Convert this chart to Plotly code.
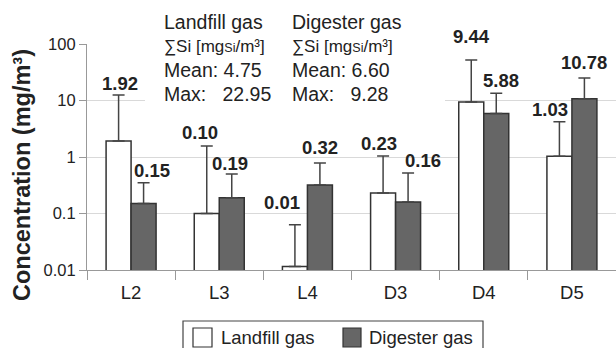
import plotly.graph_objects as go
import math

categories = ["L2", "L3", "L4", "D3", "D4", "D5"]
series_names = ["Landfill gas", "Digester gas"]
landfill = [1.92, 0.10, 0.0115, 0.23, 9.44, 1.03]
digester = [0.15, 0.19, 0.32, 0.16, 5.88, 10.78]
landfill_err_top = [12.5, 1.57, 0.063, 1.04, 52.0, 4.2]
digester_err_top = [0.35, 0.50, 0.78, 0.52, 13.5, 25.0]
landfill_labels = ["1.92", "0.10", "0.01", "0.23", "9.44", "1.03"]
digester_labels = ["0.15", "0.19", "0.32", "0.16", "5.88", "10.78"]
y_tickvals = [0.01, 0.1, 1, 10, 100]
y_ticktext = ["0.01", "0.1", "1", "10", "100"]
stats_landfill = ["Landfill gas", "∑Si [mg<span style='font-size:12.5px'>Si</span>/m³]", "Mean: 4.75", "Max:\u00a0\u00a0 22.95"]
stats_digester = ["Digester gas", "∑Si [mg<span style='font-size:12.5px'>Si</span>/m³]", "Mean: 6.60", "Max:\u00a0\u00a0 9.28"]

# style: label pixel offsets (relative to error bar top / bar centre)
lf_dx = [1.5, -6.5, -12.5, -4.5, 0, -9.5]
lf_dy = [12, 13, 22, 13, 24, 12]
dg_dx = [8.5, -1.5, 0, 14.5, 4.5, 0]
dg_dy = [12, 11, 16, 13, 13, 16]

W, H = 616, 348
ML, MR, MT, MB = 87, 0, 44, 78
PW, PH = W - ML - MR, H - MT - MB
def px(x):
    return (x - ML) / PW
def py(y):
    return (H - MB - y) / PH

FONT = "Liberation Sans, Arial, sans-serif"
TXT = "#222222"
EDGE = "#333333"
DARK = "#666666"

fig = go.Figure()
for name, vals, tops, fill in [(series_names[0], landfill, landfill_err_top, "white"),
                               (series_names[1], digester, digester_err_top, DARK)]:
    fig.add_trace(go.Bar(
        x=categories, y=vals, name=name,
        marker=dict(color=fill, line=dict(color=EDGE, width=1.5)),
        error_y=dict(type="data", symmetric=False,
                     array=[t - v for t, v in zip(tops, vals)],
                     arrayminus=[0] * len(vals),
                     color="#444444", thickness=1.5, width=6),
        showlegend=False, hoverinfo="skip",
    ))

annotations = []
half = PW / len(categories) * 0.567 / 4
for i, c in enumerate(categories):
    annotations.append(dict(x=c, y=math.log10(landfill_err_top[i]), xref="x", yref="y",
                            text=landfill_labels[i], showarrow=False,
                            xshift=-half + lf_dx[i], yshift=lf_dy[i], yanchor="middle",
                            font=dict(family=FONT, size=18.5, color=TXT, weight="bold")))
    annotations.append(dict(x=c, y=math.log10(digester_err_top[i]), xref="x", yref="y",
                            text=digester_labels[i], showarrow=False,
                            xshift=half + dg_dx[i], yshift=dg_dy[i], yanchor="middle",
                            font=dict(family=FONT, size=18.5, color=TXT, weight="bold")))

line_y = [21.5, 46, 69.5, 94]
for col_x, lines in [(162, stats_landfill), (290, stats_digester)]:
    for j, t in enumerate(lines):
        annotations.append(dict(x=px(col_x), y=py(line_y[j]), xref="paper", yref="paper",
                                text=t, showarrow=False, xanchor="left", yanchor="middle",
                                font=dict(family=FONT, size=17 if j == 1 else 19.5, color=TXT)))

annotations.append(dict(x=px(22), y=py(175), xref="paper", yref="paper",
                        xanchor="center", yanchor="middle",
                        text="Concentration (mg/m³)", textangle=-90, showarrow=False,
                        font=dict(family=FONT, size=23.5, color=TXT, weight="bold")))

# manual legend
shapes = [
    dict(type="rect", xref="paper", yref="paper", x0=px(145), x1=px(445), y0=py(108), y1=py(6),
         fillcolor="white", line=dict(width=0), layer="above"),
    dict(type="rect", xref="paper", yref="paper", x0=px(183), x1=px(483), y0=py(352), y1=py(321),
         fillcolor="white", line=dict(color="#444444", width=1.2)),
    dict(type="rect", xref="paper", yref="paper", x0=px(193), x1=px(212), y0=py(347), y1=py(328),
         fillcolor="white", line=dict(color=EDGE, width=1.2)),
    dict(type="rect", xref="paper", yref="paper", x0=px(343), x1=px(361), y0=py(347), y1=py(328),
         fillcolor=DARK, line=dict(color=EDGE, width=1.2)),
]
for lx, name in [(219, series_names[0]), (367, series_names[1])]:
    annotations.append(dict(x=px(lx), y=py(337.5), xref="paper", yref="paper", text=name,
                            showarrow=False, xanchor="left", yanchor="middle",
                            font=dict(family=FONT, size=18.5, color=TXT)))

fig.update_layout(
    width=W, height=H,
    margin=dict(l=ML, r=MR, t=MT, b=MB),
    paper_bgcolor="white", plot_bgcolor="white",
    barmode="group", bargap=0.433, bargroupgap=0,
    font=dict(family=FONT, color=TXT),
    annotations=annotations, shapes=shapes,
    xaxis=dict(type="category", tickson="boundaries", ticks="outside", ticklen=9,
               tickcolor="#999999", showline=True, linecolor="#999999", linewidth=1.2,
               showgrid=False, ticklabelstandoff=6,
               tickfont=dict(family=FONT, size=18.5, color=TXT)),
    yaxis=dict(type="log", range=[-2, 2], tickvals=y_tickvals, ticktext=y_ticktext,
               ticks="outside", ticklen=7, tickcolor="#999999", showline=True,
               linecolor="#999999", linewidth=1.2, gridcolor="#d9d9d9", gridwidth=1.2,
               zeroline=False, tickfont=dict(family=FONT, size=16.5, color=TXT)),
)

fig.write_html("out.html", config={"displayModeBar": False},
               post_script="document.body.style.margin='0';document.body.style.overflow='hidden';")
